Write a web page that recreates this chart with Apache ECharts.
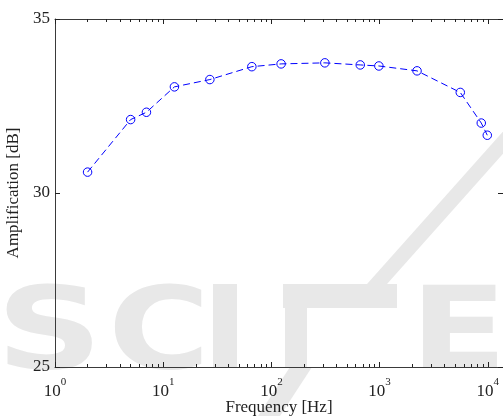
<!DOCTYPE html>
<html>
<head>
<meta charset="utf-8">
<script src="https://cdn.jsdelivr.net/npm/echarts@6/dist/echarts.min.js"></script>
<style>
html,body{margin:0;padding:0;background:#fff;}
#c{width:503px;height:416px;}
</style>
</head>
<body>
<div id="c"></div>
<script>
// Data
const freqHz = [2, 5, 7, 12.7, 27, 66, 123, 312, 663, 985, 2220, 5570, 8710, 9900];
const amplificationDb = [30.60, 32.11, 32.32, 33.05, 33.26, 33.63, 33.71, 33.74, 33.68, 33.65, 33.51, 32.89, 32.01, 31.66];
const majorTicks = [1, 10, 100, 1000, 10000];
const minorTicks = [];
[1, 10, 100, 1000, 10000].forEach(function (d) {
  for (let k = 2; k <= 9; k++) { if (d * k < 13830) minorTicks.push(d * k); }
});
const yTicks = [25, 30, 35];
const xMin = 1, xMax = 13830;

const FONT = '"Liberation Serif", "Times New Roman", serif';
const WM = '#e8e8e8';
const WMFONT = '"DejaVu Sans", sans-serif';

const chart = echarts.init(document.getElementById('c'), null, {renderer: 'canvas'});

function xAxisDef(pos, major, withLabel) {
  return {
    type: 'log', logBase: 10, min: xMin, max: xMax, position: pos, gridIndex: 0,
    axisLine: {show: major, onZero: false, lineStyle: {color: '#3a3a3a', width: 1}},
    axisTick: {show: true, inside: true, length: major ? 5 : 3, customValues: major ? majorTicks : minorTicks,
      lineStyle: {color: '#222', width: 1}},
    axisLabel: withLabel ? {
      show: true, customValues: majorTicks, margin: 10,
      formatter: function (v) { return '{b|10}{s|' + Math.round(Math.log10(v)) + '}'; },
      rich: {
        b: {fontFamily: FONT, fontSize: 17, color: '#222', verticalAlign: 'bottom'},
        s: {fontFamily: FONT, fontSize: 11, color: '#222', verticalAlign: 'top', padding: [0, 0, 12, 0]}
      }
    } : {show: false},
    splitLine: {show: false},
    name: withLabel ? 'Frequency [Hz]' : '',
    nameLocation: 'middle', nameGap: 32, nameMoveOverlap: false,
    nameTextStyle: {fontFamily: FONT, fontSize: 17, color: '#222'}
  };
}

function wmLetter(ch, x, sx) {
  return {type: 'text', z: -10, x: x, y: 281, scaleX: sx,
    style: {text: ch, fontSize: 114, fontWeight: 'bold', fontFamily: WMFONT, fill: WM, align: 'left', verticalAlign: 'top'}};
}

const option = {
  backgroundColor: '#fff',
  animation: false,
  graphic: [
    wmLetter('S', -4, 1.3),
    wmLetter('C', 108, 1.22),
    {type: 'rect', z: -10, shape: {x: 213, y: 284, width: 24, height: 84}, style: {fill: WM}},
    {type: 'rect', z: -10, shape: {x: 283, y: 284, width: 114, height: 24}, style: {fill: WM}},
    {type: 'rect', z: -10, shape: {x: 285, y: 284, width: 22, height: 84}, style: {fill: WM}},
    {type: 'polygon', z: -10, shape: {points: [[531, 100], [551, 100], [379, 293], [359, 293]]}, style: {fill: WM}},
    {type: 'polygon', z: -10, shape: {points: [[290, 367], [312, 367], [280, 416], [258, 416]]}, style: {fill: WM}},
    wmLetter('E', 410, 1.25)
  ],
  grid: {left: 55, top: 19, width: 448, height: 348, containLabel: false, outerBoundsMode: 'none'},
  xAxis: [
    xAxisDef('bottom', true, true),
    xAxisDef('bottom', false, false),
    xAxisDef('top', true, false),
    xAxisDef('top', false, false)
  ],
  yAxis: [
    {
      type: 'value', min: 25, max: 35, interval: 5, position: 'left',
      axisLine: {show: true, onZero: false, lineStyle: {color: '#3a3a3a', width: 1}},
      axisTick: {show: true, inside: true, length: 5, lineStyle: {color: '#222'}},
      axisLabel: {show: true, margin: 5, fontFamily: FONT, fontSize: 17, color: '#222'},
      splitLine: {show: false},
      name: 'Amplification [dB]', nameLocation: 'middle', nameGap: 30,
      nameTextStyle: {fontFamily: FONT, fontSize: 17, color: '#222'}
    },
    {
      type: 'value', min: 25, max: 35, interval: 5, position: 'right',
      axisLine: {show: true, onZero: false, lineStyle: {color: '#3a3a3a', width: 1}},
      axisTick: {show: true, inside: true, length: 5, lineStyle: {color: '#222'}},
      axisLabel: {show: false}, splitLine: {show: false}
    }
  ],
  series: [{
    type: 'line', xAxisIndex: 0, yAxisIndex: 0,
    data: freqHz.map(function (f, i) { return [f, amplificationDb[i]]; }),
    symbol: 'circle', symbolSize: 8.5,
    itemStyle: {color: 'rgba(0,0,0,0)', borderColor: '#0000ff', borderWidth: 1},
    lineStyle: {color: '#0000ff', width: 1, type: [7, 4]},
    emphasis: {disabled: true}
  }]
};
chart.setOption(option);
</script>
</body>
</html>
